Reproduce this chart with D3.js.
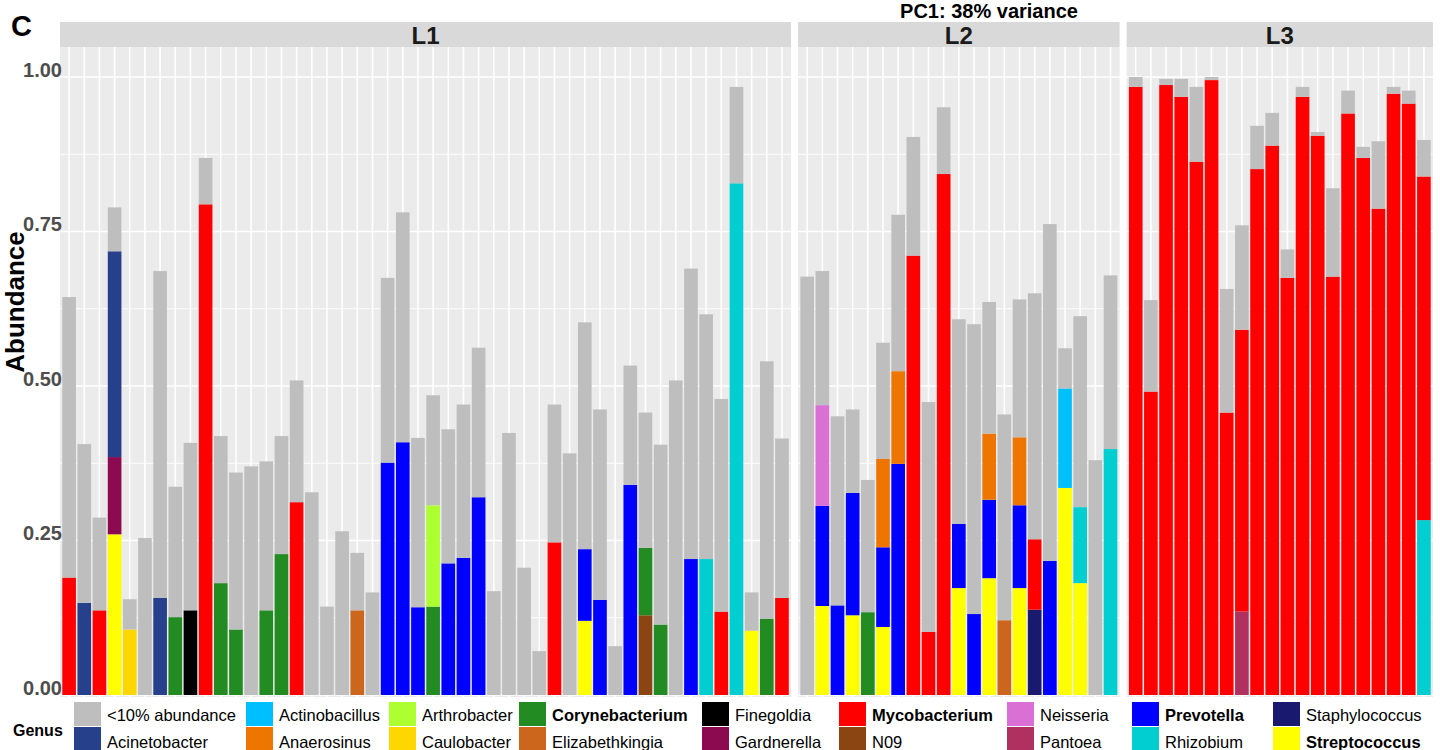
<!DOCTYPE html>
<html><head><meta charset="utf-8">
<script src="https://cdn.jsdelivr.net/npm/d3@7"></script>
<style>
body{margin:0;background:#fff}
svg{display:block}
text{font-family:"Liberation Sans",Arial,Helvetica,sans-serif}
</style>
</head><body>
<svg id="chart" width="1440" height="750"></svg>
<script>
// ---------- data ----------
const OTH="<10% abundance", ACI="Acinetobacter", ACT="Actinobacillus", ANA="Anaerosinus",
      ART="Arthrobacter", CAU="Caulobacter", COR="Corynebacterium", ELI="Elizabethkingia",
      FIN="Finegoldia", GAR="Gardnerella", MYC="Mycobacterium", N09="N09", NEI="Neisseria",
      PAN="Pantoea", PRE="Prevotella", RHI="Rhizobium", STA="Staphylococcus", STR="Streptococcus";

const genera = [OTH, ACI, ACT, ANA, ART, CAU, COR, ELI, FIN, GAR, MYC, N09, NEI, PAN, PRE, RHI, STA, STR];
const genusColors = ["#BEBEBE","#27408B","#00BFFF","#EE7600","#ADFF2F","#FFD700","#228B22","#CD661D",
                     "#000000","#8B0A50","#FF0000","#8B4513","#DA70D6","#B03060","#0000FF","#00CED1","#191970","#FFFF00"];
const boldGenera = [COR, MYC, PRE, STR];

const panels = ["L1","L2","L3"];
const yTicks = [0, 0.25, 0.5, 0.75, 1];
const yMinor = [0.125, 0.375, 0.625, 0.875];

// each bar: list of [genus, abundance] segments
const samplesL1 = [
  [[MYC,.190],[OTH,.454]],
  [[ACI,.149],[OTH,.257]],
  [[MYC,.137],[OTH,.150]],
  [[STR,.260],[GAR,.125],[ACI,.333],[OTH,.071]],
  [[CAU,.106],[OTH,.049]],
  [[OTH,.254]],
  [[ACI,.157],[OTH,.529]],
  [[COR,.126],[OTH,.211]],
  [[FIN,.137],[OTH,.271]],
  [[MYC,.794],[OTH,.075]],
  [[COR,.181],[OTH,.238]],
  [[COR,.106],[OTH,.254]],
  [[OTH,.370]],
  [[COR,.137],[OTH,.241]],
  [[COR,.228],[OTH,.191]],
  [[MYC,.312],[OTH,.197]],
  [[OTH,.328]],
  [[OTH,.143]],
  [[OTH,.265]],
  [[ELI,.137],[OTH,.093]],
  [[OTH,.166]],
  [[PRE,.376],[OTH,.299]],
  [[PRE,.409],[OTH,.372]],
  [[PRE,.142],[OTH,.274]],
  [[COR,.143],[ART,.164],[OTH,.178]],
  [[PRE,.213],[OTH,.217]],
  [[PRE,.222],[OTH,.248]],
  [[PRE,.320],[OTH,.242]],
  [[OTH,.168]],
  [[OTH,.424]],
  [[OTH,.206]],
  [[OTH,.071]],
  [[MYC,.247],[OTH,.223]],
  [[OTH,.391]],
  [[STR,.120],[PRE,.116],[OTH,.367]],
  [[PRE,.154],[OTH,.308]],
  [[OTH,.079]],
  [[PRE,.340],[OTH,.193]],
  [[N09,.129],[COR,.109],[OTH,.219]],
  [[COR,.114],[OTH,.291]],
  [[OTH,.509]],
  [[PRE,.220],[OTH,.470]],
  [[RHI,.220],[OTH,.396]],
  [[MYC,.135],[OTH,.344]],
  [[RHI,.828],[OTH,.156]],
  [[STR,.104],[OTH,.062]],
  [[COR,.123],[OTH,.417]],
  [[MYC,.157],[OTH,.258]]
];
const samplesL2 = [
  [[OTH,.677]],
  [[STR,.144],[PRE,.162],[NEI,.163],[OTH,.217]],
  [[PRE,.145],[OTH,.306]],
  [[STR,.129],[PRE,.198],[OTH,.135]],
  [[COR,.134],[OTH,.214]],
  [[STR,.110],[PRE,.129],[ANA,.143],[OTH,.188]],
  [[PRE,.374],[ANA,.150],[OTH,.253]],
  [[MYC,.711],[OTH,.192]],
  [[MYC,.102],[OTH,.372]],
  [[MYC,.843],[OTH,.108]],
  [[STR,.173],[PRE,.104],[OTH,.331]],
  [[PRE,.131],[OTH,.469]],
  [[STR,.189],[PRE,.127],[ANA,.107],[OTH,.213]],
  [[ELI,.121],[OTH,.333]],
  [[STR,.173],[PRE,.134],[ANA,.110],[OTH,.223]],
  [[STA,.138],[MYC,.114],[OTH,.398]],
  [[PRE,.217],[OTH,.545]],
  [[STR,.335],[ACT,.161],[OTH,.065]],
  [[STR,.181],[RHI,.123],[OTH,.309]],
  [[OTH,.380]],
  [[RHI,.398],[OTH,.281]]
];
const samplesL3 = [
  [[MYC,.984],[OTH,.016]],
  [[MYC,.491],[OTH,.148]],
  [[MYC,.987],[OTH,.010]],
  [[MYC,.968],[OTH,.029]],
  [[MYC,.863],[OTH,.121]],
  [[MYC,.995],[OTH,.005]],
  [[MYC,.457],[OTH,.200]],
  [[PAN,.135],[MYC,.456],[OTH,.169]],
  [[MYC,.851],[OTH,.070]],
  [[MYC,.889],[OTH,.053]],
  [[MYC,.675],[OTH,.046]],
  [[MYC,.968],[OTH,.016]],
  [[MYC,.905],[OTH,.006]],
  [[MYC,.677],[OTH,.143]],
  [[MYC,.941],[OTH,.037]],
  [[MYC,.869],[OTH,.018]],
  [[MYC,.787],[OTH,.109]],
  [[MYC,.973],[OTH,.011]],
  [[MYC,.957],[OTH,.021]],
  [[RHI,.283],[MYC,.556],[OTH,.059]]
];
const panelSamples = [samplesL1, samplesL2, samplesL3];

// ---------- layout ----------
const svg = d3.select("#chart");
const panelTop = 47, panelBottom = 697, stripTop = 22;
const plotLeft = 60, plotRight = 1433, panelGap = 7;
const y = d3.scaleLinear().domain([0, 1]).range([695, 77]);
const color = d3.scaleOrdinal().domain(genera).range(genusColors);
const stackKeys = genera.slice().reverse(); // first legend level sits on top

const totalUnits = d3.sum(panelSamples, s => s.length + 0.2);
const unit = (plotRight - plotLeft - panelGap * (panels.length - 1)) / totalUnits;

let x0 = plotLeft;
panels.forEach((name, pi) => {
  const samples = panelSamples[pi];
  const w = (samples.length + 0.2) * unit;
  const x1 = x0 + w;
  const ids = samples.map((_, i) => name + "-" + (i + 1));
  const x = d3.scaleBand().domain(ids).range([x0, x1]).paddingInner(0.1).paddingOuter(0.15);

  const g = svg.append("g");
  // strip
  g.append("rect").attr("x", x0).attr("y", stripTop).attr("width", w).attr("height", panelTop - stripTop).attr("fill", "#D9D9D9");
  g.append("text").attr("x", (x0 + x1) / 2).attr("y", 43.5).attr("text-anchor", "middle")
    .attr("font-size", 24).attr("font-weight", "bold").attr("fill", "#1A1A1A").text(name);
  // panel background
  g.append("rect").attr("x", x0).attr("y", panelTop).attr("width", w).attr("height", panelBottom - panelTop).attr("fill", "#EBEBEB");
  // gridlines
  g.selectAll(".ymin").data(yMinor).join("line")
    .attr("x1", x0).attr("x2", x1).attr("y1", d => y(d)).attr("y2", d => y(d))
    .attr("stroke", "#fff").attr("stroke-width", 0.9);
  g.selectAll(".ymaj").data(yTicks).join("line")
    .attr("x1", x0).attr("x2", x1).attr("y1", d => y(d)).attr("y2", d => y(d))
    .attr("stroke", "#fff").attr("stroke-width", 1.6);
  g.selectAll(".xmaj").data(ids).join("line")
    .attr("x1", d => x(d) + x.bandwidth() / 2).attr("x2", d => x(d) + x.bandwidth() / 2)
    .attr("y1", panelTop).attr("y2", panelBottom)
    .attr("stroke", "#fff").attr("stroke-width", 1.6);

  // stacked bars
  const rows = samples.map((segs, i) => {
    const r = { id: ids[i] };
    genera.forEach(k => r[k] = 0);
    segs.forEach(([k, v]) => r[k] += v);
    return r;
  });
  const series = d3.stack().keys(stackKeys)(rows);
  g.selectAll("g.series").data(series).join("g").attr("fill", d => color(d.key))
    .selectAll("rect").data(d => d.filter(s => s[1] - s[0] > 0)).join("rect")
    .attr("x", d => x(d.data.id)).attr("width", x.bandwidth())
    .attr("y", d => y(d[1])).attr("height", d => y(d[0]) - y(d[1]));

  x0 = x1 + panelGap;
});

// y axis labels
const yAxis = d3.axisLeft(y).tickValues(yTicks).tickFormat(d3.format(".2f")).tickSize(0).tickPadding(0);
const ya = svg.append("g").attr("transform", "translate(62,0)").call(yAxis);
ya.select(".domain").remove();
ya.selectAll("text").attr("font-size", 20).attr("font-weight", "bold").attr("fill", "#4D4D4D")
  .attr("font-family", '"Liberation Sans",Arial,sans-serif').attr("dy", "-0.05em");

// axis title
svg.append("text").attr("transform", "translate(24,302) rotate(-90)").attr("text-anchor", "middle")
  .attr("font-size", 26).attr("font-weight", "bold").attr("fill", "#000").text("Abundance");

// panel letter and heading
svg.append("text").attr("x", 11).attr("y", 36).attr("font-size", 29).attr("font-weight", "bold").text("C");
svg.append("text").attr("x", 989).attr("y", 18.2).attr("text-anchor", "middle").attr("font-size", 20)
  .attr("font-weight", "bold").text("PC1: 38% variance");

// legend
const legendColX = [74, 246, 389, 519, 702, 839, 1007, 1132, 1273];
const legendRowY = [702, 727];
svg.append("text").attr("x", 13).attr("y", 736).attr("font-size", 16).attr("font-weight", "bold").text("Genus");
const lg = svg.append("g").selectAll("g").data(genera).join("g")
  .attr("transform", (d, i) => `translate(${legendColX[Math.floor(i / 2)]},${legendRowY[i % 2]})`);
lg.append("rect").attr("width", 27).attr("height", 24).attr("fill", d => color(d));
lg.append("text").attr("x", 33).attr("y", (d, i) => i % 2 === 0 ? 19 : 21).attr("font-size", 16.5)
  .attr("font-weight", d => boldGenera.includes(d) ? "bold" : "normal").attr("fill", "#000").text(d => d);
</script>
</body></html>
